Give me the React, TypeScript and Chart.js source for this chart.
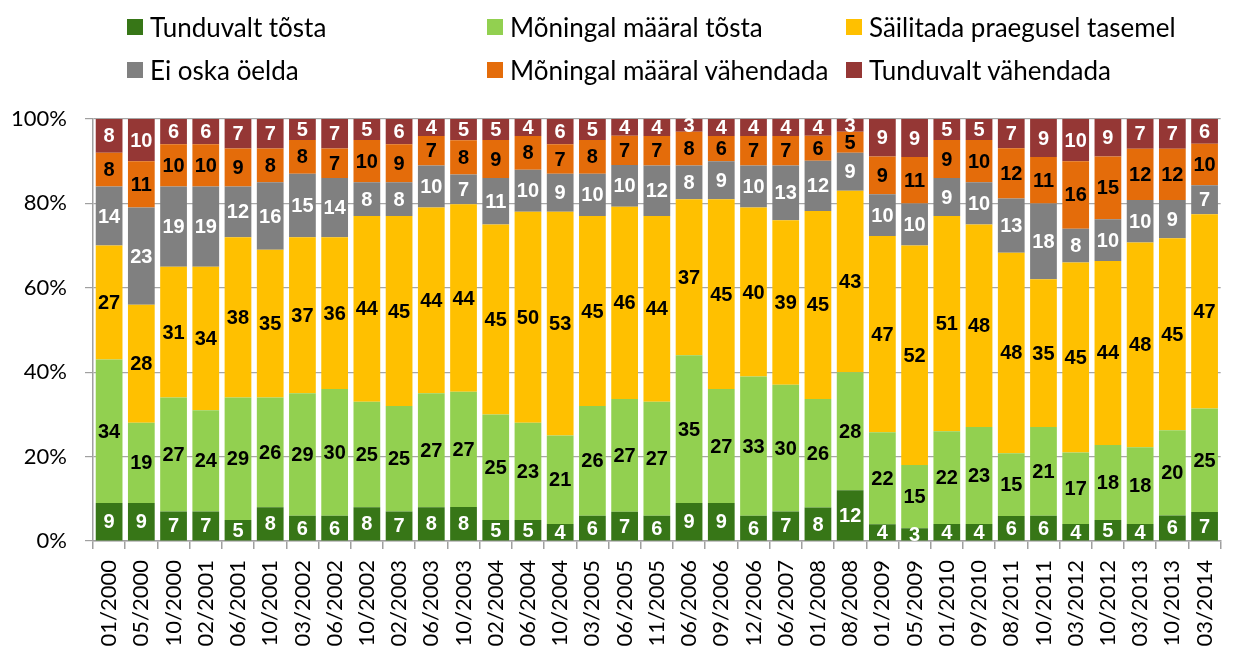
import React, { useEffect, useRef } from 'react';
import { Chart, registerables } from 'chart.js';

Chart.register(...registerables);

const categories = [
  '01/2000', '05/2000', '10/2000', '02/2001', '06/2001', '10/2001', '03/2002', '06/2002',
  '10/2002', '02/2003', '06/2003', '10/2003', '02/2004', '06/2004', '10/2004', '03/2005',
  '06/2005', '11/2005', '06/2006', '09/2006', '12/2006', '06/2007', '01/2008', '08/2008',
  '01/2009', '05/2009', '01/2010', '09/2010', '08/2011', '10/2011', '03/2012', '10/2012',
  '03/2013', '10/2013', '03/2014',
];

const tunduvaltTosta = [9, 9, 7, 7, 5, 8, 6, 6, 8, 7, 8, 8, 5, 5, 4, 6, 7, 6, 9, 9, 6, 7, 8, 12, 4, 3, 4, 4, 6, 6, 4, 5, 4, 6, 7];
const moningalTosta = [34, 19, 27, 24, 29, 26, 29, 30, 25, 25, 27, 27, 25, 23, 21, 26, 27, 27, 35, 27, 33, 30, 26, 28, 22, 15, 22, 23, 15, 21, 17, 18, 18, 20, 25];
const sailitada = [27, 28, 31, 34, 38, 35, 37, 36, 44, 45, 44, 44, 45, 50, 53, 45, 46, 44, 37, 45, 40, 39, 45, 43, 47, 52, 51, 48, 48, 35, 45, 44, 48, 45, 47];
const eiOska = [14, 23, 19, 19, 12, 16, 15, 14, 8, 8, 10, 7, 11, 10, 9, 10, 10, 12, 8, 9, 10, 13, 12, 9, 10, 10, 9, 10, 13, 18, 8, 10, 10, 9, 7];
const moningalVahendada = [8, 11, 10, 10, 9, 8, 8, 7, 10, 9, 7, 8, 9, 8, 7, 8, 7, 7, 8, 6, 7, 7, 6, 5, 9, 11, 9, 10, 12, 11, 16, 15, 12, 12, 10];
const tunduvaltVahendada = [8, 10, 6, 6, 7, 7, 5, 7, 5, 6, 4, 5, 5, 4, 6, 5, 4, 4, 3, 4, 4, 4, 4, 3, 9, 9, 5, 5, 7, 9, 10, 9, 7, 7, 6];

const seriesNames = [
  'Tunduvalt tõsta',
  'Mõningal määral tõsta',
  'Säilitada praegusel tasemel',
  'Ei oska öelda',
  'Mõningal määral vähendada',
  'Tunduvalt vähendada',
];
const seriesValues = [tunduvaltTosta, moningalTosta, sailitada, eiOska, moningalVahendada, tunduvaltVahendada];
const seriesColors = ['#377617', '#92D050', '#FFC000', '#808080', '#E46C0A', '#953735'];
const labelColors = ['#FFFFFF', '#000000', '#000000', '#FFFFFF', '#000000', '#FFFFFF'];
const yTickValues = [0, 20, 40, 60, 80, 100];

const totals = categories.map((_, i) => seriesValues.reduce((s, arr) => s + arr[i], 0));

const legendPositions = [
  { left: 127, top: 19 },
  { left: 487, top: 19 },
  { left: 846, top: 19 },
  { left: 127, top: 62 },
  { left: 487, top: 62 },
  { left: 846, top: 62 },
];

const segmentLabels = {
  id: 'segmentLabels',
  afterDatasetsDraw(chart: any) {
    const ctx = chart.ctx;
    ctx.save();
    ctx.font = 'bold 20px "Liberation Sans", Arial, sans-serif';
    ctx.textAlign = 'center';
    ctx.textBaseline = 'middle';
    chart.data.datasets.forEach((ds: any, di: number) => {
      const meta = chart.getDatasetMeta(di);
      meta.data.forEach((el: any, i: number) => {
        const p = el.getProps(['x', 'y', 'base'], true);
        ctx.fillStyle = labelColors[di];
        ctx.fillText(String(seriesValues[di][i]), p.x, (p.y + p.base) / 2 + 1);
      });
    });
    ctx.restore();
  },
};

export default function App() {
  const canvasRef = useRef<HTMLCanvasElement | null>(null);

  useEffect(() => {
    if (!canvasRef.current) return;
    const chart = new Chart(canvasRef.current, {
      type: 'bar',
      data: {
        labels: categories,
        datasets: seriesValues.map((vals, di) => ({
          label: seriesNames[di],
          data: vals.map((v, i) => (v / totals[i]) * 100),
          backgroundColor: seriesColors[di],
          borderWidth: 0,
          barPercentage: 0.83,
          categoryPercentage: 1.0,
        })),
      },
      options: {
        responsive: false,
        animation: false,
        devicePixelRatio: 1,
        layout: { padding: { top: 119, right: 2, left: 0, bottom: 0 } },
        plugins: {
          legend: { display: false },
          tooltip: { enabled: false },
        },
        scales: {
          x: {
            stacked: true,
            grid: {
              display: true,
              drawOnChartArea: false,
              drawTicks: true,
              tickLength: 8,
              color: '#a0a0a0',
              lineWidth: 1.5,
              offset: true,
            },
            border: { display: true, color: '#a0a0a0', width: 1.5 },
            ticks: {
              minRotation: 90,
              maxRotation: 90,
              autoSkip: false,
              padding: 11,
              color: '#000000',
              font: { family: 'Lato, "Open Sans", sans-serif', size: 22 },
            },
            afterFit(scale: any) {
              scale.height = 109;
            },
          },
          y: {
            stacked: true,
            min: 0,
            max: 100,
            afterBuildTicks(scale: any) {
              scale.ticks = yTickValues.map((v) => ({ value: v }));
            },
            grid: {
              color: '#a6a6a6',
              lineWidth: 1.2,
              borderDash: [2, 2],
              tickBorderDash: [],
              tickColor: '#a0a0a0',
              tickLength: 8,
              drawTicks: true,
            },
            border: { display: true, color: '#a0a0a0', width: 1.5 },
            ticks: {
              padding: 18,
              color: '#000000',
              font: { family: 'Lato, "Open Sans", sans-serif', size: 22 },
              callback: (v: any) => v + '%',
            },
            afterFit(scale: any) {
              scale.width = 93;
            },
          },
        },
      },
      plugins: [segmentLabels],
    });
    return () => chart.destroy();
  }, []);

  return (
    <div style={{ position: 'absolute', left: 0, top: 0, width: 1242, height: 650, background: '#fff', overflow: 'hidden' }}>
      <canvas ref={canvasRef} width={1242} height={650} style={{ display: 'block', position: 'absolute', left: 0, top: 0 }} />
      {seriesNames.map((name, i) => (
        <div
          key={name}
          style={{
            position: 'absolute',
            left: legendPositions[i].left,
            top: legendPositions[i].top - 7,
            height: 30,
            display: 'flex',
            alignItems: 'center',
            whiteSpace: 'nowrap',
            fontFamily: 'Lato, "Open Sans", sans-serif',
            fontSize: 26,
            color: '#000',
          }}
        >
          <span style={{ display: 'inline-block', width: 16, height: 16, background: seriesColors[i], marginRight: 7 }} />
          <span>{name}</span>
        </div>
      ))}
    </div>
  );
}
